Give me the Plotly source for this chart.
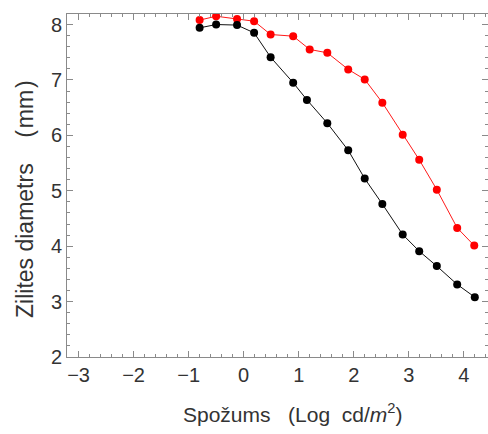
import plotly.graph_objects as go

# Data (log luminance vs pupil diameter)
x_red = [-0.80, -0.50, -0.12, 0.19, 0.49, 0.90, 1.20, 1.52, 1.90, 2.20, 2.52, 2.89, 3.19, 3.51, 3.88, 4.19]
y_red = [8.08, 8.15, 8.10, 8.06, 7.82, 7.79, 7.55, 7.49, 7.19, 7.01, 6.59, 6.01, 5.56, 5.02, 4.33, 4.01]

x_black = [-0.80, -0.50, -0.12, 0.19, 0.49, 0.90, 1.15, 1.52, 1.90, 2.20, 2.52, 2.89, 3.19, 3.51, 3.88, 4.20]
y_black = [7.94, 8.00, 7.99, 7.85, 7.41, 6.95, 6.64, 6.22, 5.73, 5.22, 4.76, 4.21, 3.91, 3.64, 3.31, 3.08]

x_ticks = [-3, -2, -1, 0, 1, 2, 3, 4]
x_ticklabels = ["\u22123", "\u22122", "\u22121", "0", "1", "2", "3", "4"]
y_ticks = [2, 3, 4, 5, 6, 7, 8]

FONT = "Liberation Sans, Arial, Helvetica, sans-serif"
TXT = "#333333"
AX = "#8a8a8a"
NB = "\u00a0"

fig = go.Figure()
fig.add_trace(go.Scatter(x=x_red, y=y_red, mode="lines+markers",
                         line=dict(color="#ff1a1a", width=1),
                         marker=dict(color="#ff0000", size=8)))
fig.add_trace(go.Scatter(x=x_black, y=y_black, mode="lines+markers",
                         line=dict(color="#111111", width=1),
                         marker=dict(color="#000000", size=8)))

axis_common = dict(
    showgrid=False, zeroline=False, showline=True, linecolor=AX, linewidth=1,
    mirror="ticks", ticks="inside", ticklen=6, tickcolor=AX, tickwidth=1,
    tickfont=dict(family=FONT, size=20, color=TXT),
)

fig.update_layout(
    width=488, height=434,
    margin=dict(l=67, r=0, t=14, b=77),
    paper_bgcolor="white", plot_bgcolor="white",
    showlegend=False,
    font=dict(family=FONT, color=TXT),
    xaxis=dict(range=[-3.21, 4.44], tickvals=x_ticks, ticktext=x_ticklabels,
               minor=dict(dtick=0.2, ticks="inside", ticklen=3, tickcolor=AX),
               **axis_common),
    yaxis=dict(range=[2, 8.19], tickvals=y_ticks,
               minor=dict(dtick=0.2, ticks="inside", ticklen=3, tickcolor=AX),
               **axis_common),
)

# axis titles placed as annotations (plot area: 421 x 343 px)
fig.add_annotation(
    text="Spo\u017eums" + NB * 3 + "(Log" + NB * 2 + "cd/<i>m</i><sup>2</sup>)",
    xref="paper", yref="paper", x=(292 - 67) / 421, y=-(413 - 357) / 343,
    xanchor="center", yanchor="middle", showarrow=False,
    font=dict(family=FONT, size=21, color=TXT))
fig.add_annotation(
    text="Zilites diametrs" + NB * 4 + "(\u200amm\u200a)",
    xref="paper", yref="paper", x=-(67 - 25) / 421, y=(357 - 199) / 343,
    xanchor="center", yanchor="middle", textangle=-90, showarrow=False,
    font=dict(family=FONT, size=23, color=TXT))

fig.write_html("out.html", config={"displayModeBar": False},
               post_script="document.body.style.margin='0';document.body.style.overflow='hidden';")
